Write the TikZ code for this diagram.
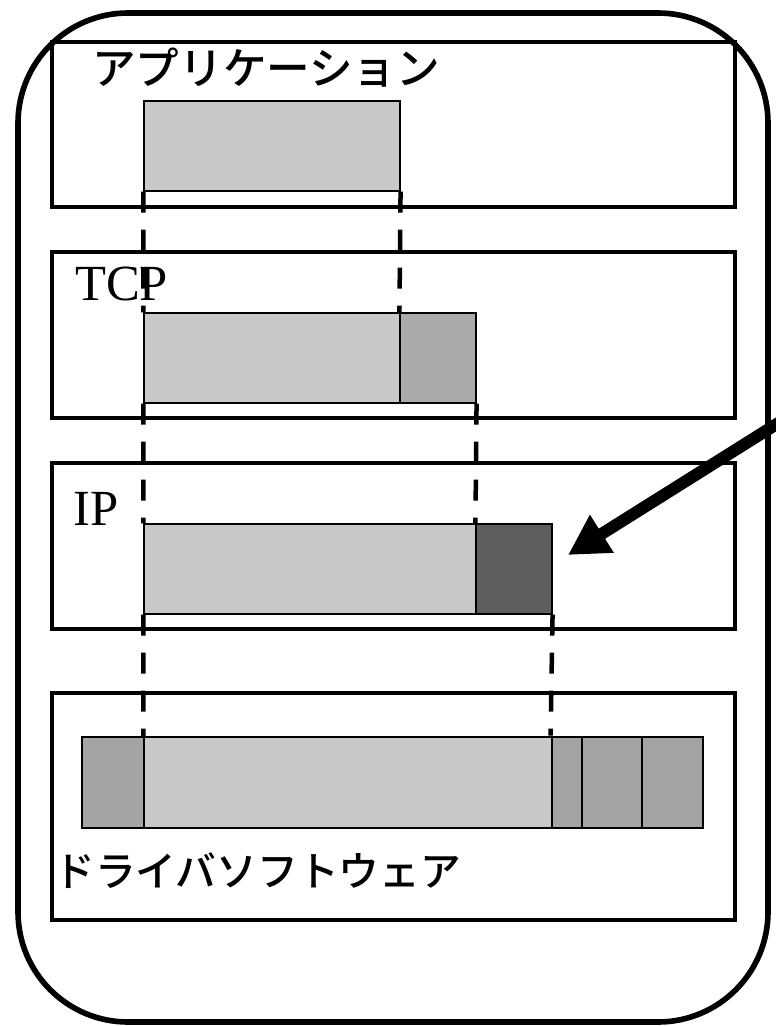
\documentclass[tikz,border=0pt]{standalone}
\usepackage{fontspec}
\setmainfont{Liberation Serif}
\newfontfamily\jpfont[BoldFont={Noto Sans CJK JP Medium}]{Noto Sans CJK JP}
\usetikzlibrary{fit,arrows.meta}
\definecolor{pktlight}{HTML}{C8C8C8}
\definecolor{pktmid}{HTML}{AAAAAA}
\definecolor{pktdrv}{HTML}{A4A4A4}
\definecolor{pktdark}{HTML}{5E5E5E}
\tikzset{hostbox/.style={draw,line width=4pt,rounded corners=2.75cm,inner sep=0pt}  }
\tikzset{layerbox/.style={draw,line width=2.2pt,inner sep=0pt}  }
\tikzset{pkt/.style={draw,line width=0.8pt,inner sep=0pt}  }
\tikzset{drop/.style={line width=3.2pt,dash pattern=on 0.525cm off 0.425cm}  }
\tikzset{lbl/.style={inner sep=0pt}  }
\tikzset{jplbl/.style={lbl,font=\jpfont\bfseries\fontsize{#1}{#1}\selectfont}  }

\begin{document}
\begin{tikzpicture}[x=0.025cm,y=-0.025cm]
	\useasboundingbox (0,0) rectangle (776,1026);

		% protocol layers
		\node[layerbox,fit={(52,42) (735,207)}] (applayer) {};
		\node[layerbox,fit={(52,252) (735,418)}] (tcplayer) {};
		\node[layerbox,fit={(52,463) (735,629)}] (iplayer) {};
		\node[layerbox,fit={(52,693) (735,920)}] (drvlayer) {};

		% data at each layer
		\node[pkt,fill=pktlight,fit={(144,101) (400,191)}] (appdata) {};

		\node[pkt,fill=pktlight,fit={(144,313) (400,403)}] (tcpdata) {};
		\node[pkt,fill=pktmid,fit={(400,313) (476,403)}] (tcphdr) {};

		\node[pkt,fill=pktlight,fit={(144,524) (476,614)}] (ipdata) {};
		\node[pkt,fill=pktdark,fit={(476,524) (552,614)}] (iphdr) {};

		\node[pkt,fill=pktdrv,fit={(82,737) (144,828)}] (drvhdr) {};
		\node[pkt,fill=pktlight,fit={(144,737) (552,828)}] (drvdata) {};
		\node[pkt,fill=pktdrv,fit={(582,737) (642,828)}] (drvtrl1) {};
		\node[pkt,fill=pktdrv,fit={(642,737) (703,828)}] (drvtrl2) {};
		\node[pkt,fill=pktdrv,line width=2pt,fit={(552,737) (582,828)}] (drvmark) {};

		\node[jplbl=31,anchor=west] (applbl) at (92,68) {アプリケーション};
		\node[lbl,anchor=base west,font=\fontsize{36}{36}\selectfont] (tcplbl) at (75,300) {TCP};
		\node[lbl,anchor=base west,font=\fontsize{36}{36}\selectfont] (iplbl) at (73,525) {IP};
		\node[jplbl=29,anchor=west] (drvlbl) at (54,871) {ドライバソフトウェア};

		\draw[drop]
			(appdata.south west) -- (tcpdata.north west)
			(appdata.south east) -- (tcphdr.north west)
			(tcpdata.south west) -- (ipdata.north west)
			(tcphdr.south east) -- (iphdr.north west)
			(ipdata.south west) -- (drvdata.north west)
			(iphdr.south east) -- (drvmark.north west)
			;

		\coordinate (arrtail) at (807,405);
		\coordinate (arrtip) at (568,555);
		\draw[line width=8.5pt,-{Triangle[length=1cm,width=1.05cm]}] (arrtail) -- (arrtip);

		\node[hostbox,fit={(18,13) (768,1022)}] (host) {};
	\end{tikzpicture}
\end{document}
